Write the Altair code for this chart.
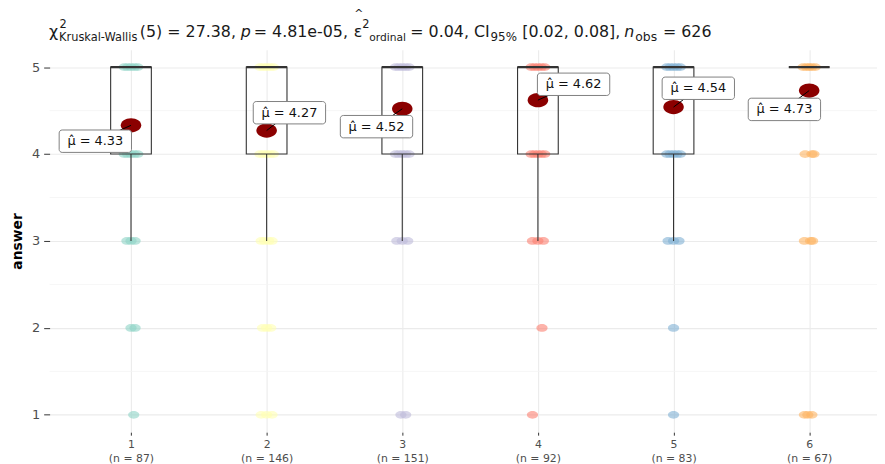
import json
import altair as alt
import pandas as pd

# ---------------- data ----------------
groups = [1, 2, 3, 4, 5, 6]
n_obs = [87, 146, 151, 92, 83, 67]
means = [4.33, 4.27, 4.52, 4.62, 4.54, 4.73]
q1 = [4, 4, 4, 4, 4, 5]
medians = [5, 5, 5, 5, 5, 5]
q3 = [5, 5, 5, 5, 5, 5]
whisker_lo = [3, 3, 3, 3, 3, 5]
y_ticks = [1, 2, 3, 4, 5]
minor_grid = [1.5, 2.5, 3.5, 4.5]
set3 = ["#8DD3C7", "#FFFFB3", "#BEBADA", "#FB8072", "#80B1D3", "#FDB462"]

# answer levels observed in each group and the horizontal jitter of the dots drawn there
wide = [-0.05, -0.025, 0.0, 0.025, 0.05]
dots = {
    1: {5: wide, 4: wide, 3: [-0.03, 0.0, 0.03], 2: [0.0, 0.03], 1: [0.02]},
    2: {5: wide, 4: wide, 3: [-0.04, -0.015, 0.015, 0.04], 2: [-0.03, 0.0, 0.03], 1: [-0.04, 0.0, 0.04]},
    3: {5: wide, 4: wide, 3: [-0.04, 0.0, 0.04], 1: [-0.01, 0.025]},
    4: {5: wide, 4: wide, 3: [-0.04, 0.0, 0.04], 2: [0.03], 1: [-0.04]},
    5: {5: wide, 4: wide, 3: [-0.04, 0.0, 0.04], 2: [0.0], 1: [0.0]},
    6: {5: [-0.045, -0.02, 0.0, 0.02, 0.045], 4: [-0.03, 0.02, 0.035], 3: [-0.035, 0.01, 0.025], 1: [-0.035, -0.01, 0.02]},
}

# ---------------- layout ----------------
W, H = 835, 386
X_DOM = [0.4, 6.5]
Y_DOM = [0.8, 5.2]
PX_X = W / (X_DOM[1] - X_DOM[0])
PX_Y = H / (Y_DOM[1] - Y_DOM[0])
label_nudge_px = [(-36, 16), (23, -18), (-26, 18), (36, -16), (25, -19), (-25, 19)]
LBL_W, LBL_H = 73, 22.6
BOX_HALF = 0.15

points_df = pd.DataFrame(
    [{"group": g, "answer": a, "jx": g + o} for g in groups for a, offs in dots[g].items() for o in offs]
)
box_df = pd.DataFrame({"group": groups, "q1": q1, "median": medians, "q3": q3, "lo": whisker_lo})
lab_rows = []
for g, m, (dx, dy) in zip(groups, means, label_nudge_px):
    lx = g + dx / PX_X
    ly = m - dy / PX_Y
    lab_rows.append({
        "group": g, "mean": m, "lx": lx, "ly": ly,
        "x1": lx - LBL_W / 2 / PX_X, "x2": lx + LBL_W / 2 / PX_X,
        "y1": ly - LBL_H / 2 / PX_Y, "y2": ly + LBL_H / 2 / PX_Y,
        "label": "\u03bc\u0302 = %.2f" % m,
    })
mean_df = pd.DataFrame(lab_rows)

xscale = alt.Scale(domain=X_DOM, nice=False, zero=False)
yscale = alt.Scale(domain=Y_DOM, nice=False, zero=False)
n_labels = json.dumps(["(n = %d)" % n for n in n_obs])
xaxis = alt.Axis(
    values=groups, title=None, grid=True, gridColor="#EBEBEB", gridWidth=1.1,
    domain=False, tickSize=3, tickColor="#333333", labelPadding=3,
    labelColor="#4D4D4D", labelFontSize=11, labelLineHeight=14.5, labelBaseline="top",
    labelExpr="[datum.label, %s[datum.value - 1]]" % n_labels,
)
yaxis = alt.Axis(
    values=y_ticks, title="answer", grid=True, gridColor="#EBEBEB", gridWidth=1.1,
    domain=False, tickSize=6, tickColor="#333333", labelPadding=4,
    labelColor="#4D4D4D", labelFontSize=13, titleFontSize=14, titleFontWeight="bold",
    titleColor="#000000", titleX=-32, titleY=H / 2, titleAlign="center", titleBaseline="middle",
    titleAngle=-90, format="d",
)


def X(field):
    return alt.X(field, scale=xscale, axis=xaxis)


def Y(field):
    return alt.Y(field, scale=yscale, axis=yaxis)


ELLIPSE = "M-1,0A1,0.69,0,1,0,1,0A1,0.69,0,1,0,-1,0Z"

minor = alt.Chart(pd.DataFrame({"v": minor_grid})).mark_rule(color="#F3F3F3", strokeWidth=0.8).encode(
    y=Y("v:Q")
)

pts = alt.Chart(points_df).mark_point(shape=ELLIPSE, filled=True, size=128, opacity=0.6).encode(
    x=X("jx:Q"),
    y=Y("answer:Q"),
    color=alt.Color("group:N", scale=alt.Scale(domain=groups, range=set3), legend=None),
)

box_base = alt.Chart(box_df).transform_calculate(
    bl=alt.datum.group - BOX_HALF, br=alt.datum.group + BOX_HALF
)
box = box_base.mark_rect(fill=None, stroke="#333333", strokeWidth=1.1).encode(
    x=X("bl:Q"), x2="br:Q", y=Y("q1:Q"), y2="q3:Q",
)
whisk = box_base.mark_rule(color="#333333", strokeWidth=1.1).encode(
    x=X("group:Q"), y=Y("lo:Q"), y2="q1:Q",
)
med = box_base.mark_rule(color="#333333", strokeWidth=2.4).encode(
    x=X("bl:Q"), x2="br:Q", y=Y("median:Q"),
)

mean_pts = alt.Chart(mean_df).mark_point(shape=ELLIPSE, filled=True, size=428, opacity=1, color="#8B0000").encode(
    x=X("group:Q"), y=Y("mean:Q"),
)
conn = alt.Chart(mean_df).mark_rule(color="#000000", strokeWidth=1).encode(
    x=X("group:Q"), x2="lx:Q", y=Y("mean:Q"), y2="ly:Q",
)
lab_box = alt.Chart(mean_df).mark_rect(fill="white", stroke="#7F7F7F", strokeWidth=1, cornerRadius=3).encode(
    x=X("x1:Q"), x2="x2:Q", y=Y("y1:Q"), y2="y2:Q",
)
lab_txt = alt.Chart(mean_df).mark_text(fontSize=13, color="#111111", font="DejaVu Sans").encode(
    x=X("lx:Q"), y=Y("ly:Q"), text="label:N",
)

# ---------------- subtitle with sub/superscripts ----------------
PLOT_LEFT, PLOT_TOP = 50, 48
MAIN, SUB = 16, 11.5
title_parts = [
    ("\u03c7", 49.5, 35.5, MAIN, "normal", "left"),
    ("2", 60, 26.5, SUB, "normal", "left"),
    ("Kruskal-Wallis", 59.5, 39, SUB, "normal", "left"),
    ("(5) = 27.38,", 141, 35.5, MAIN, "normal", "left"),
    ("p", 243, 35.5, MAIN, "italic", "left"),
    ("= 4.81e-05,", 256, 35.5, MAIN, "normal", "left"),
    ("\u03b5", 357, 35.5, MAIN, "normal", "left"),
    ("^", 362, 15, 11, "normal", "center"),
    ("2", 365.5, 26.5, SUB, "normal", "left"),
    ("ordinal", 372.5, 39, 10.8, "normal", "left"),
    ("= 0.04, CI", 414, 35.5, MAIN, "normal", "left"),
    ("95%", 495, 39, 12, "normal", "left"),
    ("[0.02, 0.08],", 527, 35.5, MAIN, "normal", "left"),
    ("n", 630, 35.5, MAIN, "italic", "left"),
    ("obs", 641, 39, 12.5, "normal", "left"),
    ("= 626", 669, 35.5, MAIN, "normal", "left"),
]
title_layers = []
for txt, px, py, fs, style, al in title_parts:
    title_layers.append(
        alt.Chart(alt.Data(values=[{"k": 1}])).mark_text(
            fontSize=fs, fontStyle=style, align=al, baseline="alphabetic", color="#1A1A1A", font="DejaVu Sans"
        ).encode(x=alt.value(px - PLOT_LEFT), y=alt.value(py - PLOT_TOP), text=alt.value(txt))
    )

chart = alt.layer(
    minor, pts, box, whisk, med, mean_pts, conn, lab_box, lab_txt, *title_layers
).properties(
    width=W, height=H,
    autosize=alt.AutoSizeParams(type="none"),
    padding={"left": 42, "top": 40, "right": 0, "bottom": 30},
).configure(font="DejaVu Sans").configure_view(stroke=None)

chart.save("out.html", embed_options={"renderer": "svg", "actions": False})
